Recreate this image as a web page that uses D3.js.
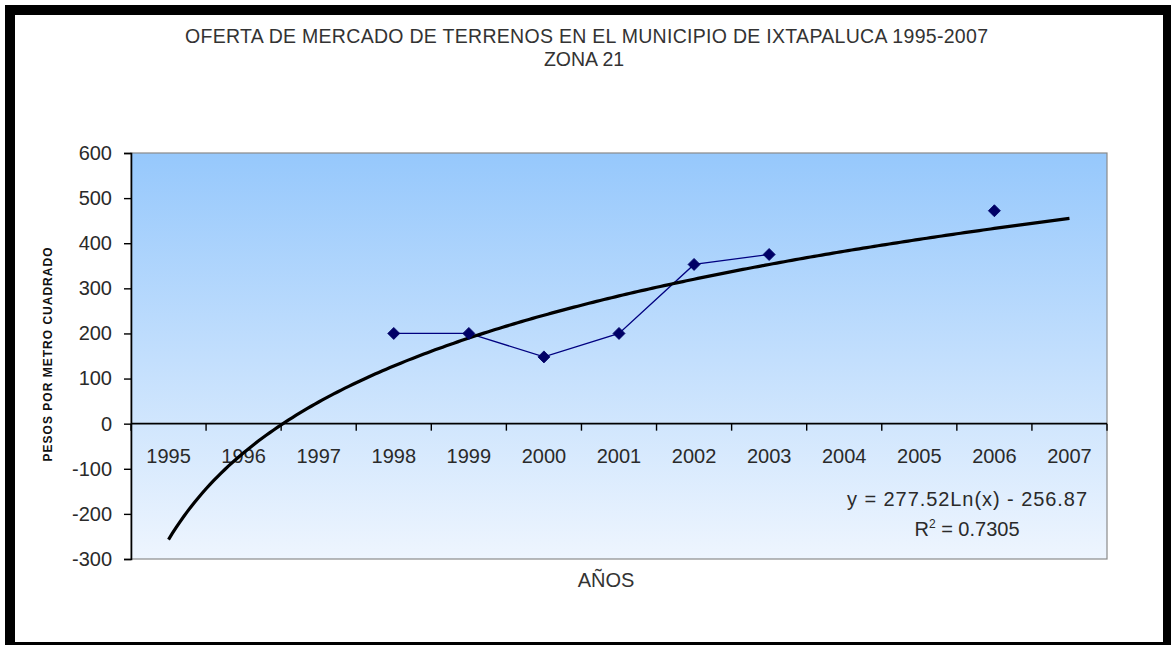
<!DOCTYPE html>
<html>
<head>
<meta charset="utf-8">
<script src="https://cdn.jsdelivr.net/npm/d3@7/dist/d3.min.js"></script>
<style>
  html, body { margin: 0; padding: 0; background: #fff; }
  svg { display: block; font-family: Arial, "Liberation Sans", sans-serif; }
</style>
</head>
<body>
<svg id="chart" width="1171" height="645"></svg>
<script>
// Market offer of land, Ixtapaluca, zone 21 (pesos per square metre)
const years = ["1995","1996","1997","1998","1999","2000","2001","2002","2003","2004","2005","2006","2007"];
const prices = [null, null, null, 200, 200, 148, 200, 353, 375, null, null, 472, null];
const yTicks = [-300, -200, -100, 0, 100, 200, 300, 400, 500, 600];

// Logarithmic trend line reported on the chart: y = a·ln(x) + b
const trendA = 277.52;
const trendB = -256.87;
const trendR2 = "0.7305";

const titleLines = ["OFERTA DE MERCADO DE TERRENOS EN EL MUNICIPIO DE IXTAPALUCA 1995-2007", "ZONA 21"];
const xTitle = "AÑOS";
const yTitle = "PESOS POR METRO CUADRADO";

const svg = d3.select("#chart");
const W = 1171, H = 645;
const plot = { left: 131, top: 153, right: 1107, bottom: 559 };

// Outer black frame
svg.append("rect").attr("x", 0).attr("y", 0).attr("width", W).attr("height", H).attr("fill", "#fff");
svg.append("rect").attr("x", 5).attr("y", 5).attr("width", W - 5).attr("height", H - 5).attr("fill", "#000");
svg.append("rect").attr("x", 15).attr("y", 15).attr("width", 1163 - 15).attr("height", 642 - 15).attr("fill", "#fff");

const x = d3.scaleBand().domain(years).range([plot.left, plot.right]).padding(0);
const y = d3.scaleLinear().domain([-300, 600]).range([plot.bottom, plot.top]);
// Trend x runs 1..n over the category centres
const xi = d3.scaleLinear().domain([1, years.length])
  .range([x(years[0]) + x.bandwidth() / 2, x(years[years.length - 1]) + x.bandwidth() / 2]);

// Plot area with vertical gradient
const defs = svg.append("defs");
const grad = defs.append("linearGradient").attr("id", "bg").attr("x1", 0).attr("y1", 0).attr("x2", 0).attr("y2", 1);
grad.append("stop").attr("offset", "0%").attr("stop-color", "#96c8fc");
grad.append("stop").attr("offset", "100%").attr("stop-color", "#eef5fe");

svg.append("rect")
  .attr("x", plot.left).attr("y", plot.top)
  .attr("width", plot.right - plot.left).attr("height", plot.bottom - plot.top)
  .attr("fill", "url(#bg)").attr("stroke", "#8a8a8a").attr("stroke-width", 1.2);

// Y axis
const yAxis = d3.axisLeft(y).tickValues(yTicks).tickSize(7).tickPadding(12).tickFormat(d => String(d));
const gy = svg.append("g").attr("transform", `translate(${plot.left},0)`).call(yAxis);
gy.select(".domain").attr("stroke", "#000").attr("stroke-width", 1.6);
gy.selectAll(".tick line").attr("stroke", "#000").attr("stroke-width", 1.4);
gy.selectAll(".tick text").attr("font-size", 20).attr("fill", "#2a2a2a")
  .attr("font-family", "Arial, 'Liberation Sans', sans-serif");

// X axis along the zero line, ticks between categories
const zeroY = y(0);
const gx = svg.append("g");
gx.append("line").attr("x1", plot.left).attr("x2", plot.right).attr("y1", zeroY).attr("y2", zeroY)
  .attr("stroke", "#000").attr("stroke-width", 1.6);
gx.selectAll("line.tk").data(years.concat(["end"])).join("line").attr("class", "tk")
  .attr("x1", (d, i) => plot.left + i * x.bandwidth())
  .attr("x2", (d, i) => plot.left + i * x.bandwidth())
  .attr("y1", zeroY).attr("y2", zeroY + 7)
  .attr("stroke", "#000").attr("stroke-width", 1.4);
gx.selectAll("text").data(years).join("text")
  .attr("x", d => x(d) + x.bandwidth() / 2)
  .attr("y", zeroY + 39.5)
  .attr("text-anchor", "middle").attr("font-size", 20).attr("fill", "#2a2a2a")
  .text(d => d);

// Data series: navy line with diamond markers, gaps where no offer
const pts = years.map((yr, i) => ({ yr, v: prices[i] }));
const line = d3.line()
  .defined(d => d.v !== null)
  .x(d => x(d.yr) + x.bandwidth() / 2)
  .y(d => y(d.v));
svg.append("path").datum(pts).attr("d", line)
  .attr("fill", "none").attr("stroke", "#000080").attr("stroke-width", 1.3);

// Trend line
const trendPts = d3.range(1, years.length + 0.001, 0.05).map(t => [t, trendA * Math.log(t) + trendB]);
svg.append("path").datum(trendPts)
  .attr("d", d3.line().x(d => xi(d[0])).y(d => y(d[1])))
  .attr("fill", "none").attr("stroke", "#000").attr("stroke-width", 3.2);

const diamond = d3.symbol().type(d3.symbolSquare).size(72);
svg.selectAll("path.mk").data(pts.filter(d => d.v !== null)).join("path").attr("class", "mk")
  .attr("d", diamond)
  .attr("transform", d => `translate(${x(d.yr) + x.bandwidth() / 2},${y(d.v)}) rotate(45)`)
  .attr("fill", "#000066").attr("stroke", "#000066").attr("stroke-width", 0.8);

// Trend equation label
const eqX = 967;
svg.append("text").attr("x", eqX).attr("y", 506).attr("text-anchor", "middle")
  .attr("font-size", 20).attr("fill", "#2a2a2a").attr("textLength", 240).attr("lengthAdjust", "spacing")
  .text(`y = ${trendA}Ln(x) - ${Math.abs(trendB)}`);
const r2 = svg.append("text").attr("x", eqX).attr("y", 536).attr("text-anchor", "middle")
  .attr("font-size", 20).attr("fill", "#2a2a2a");
r2.append("tspan").text("R");
r2.append("tspan").attr("font-size", 12).attr("dy", -8).text("2");
r2.append("tspan").attr("dy", 8).text(` = ${trendR2}`);

// Titles
svg.append("text").attr("x", 586.5).attr("y", 42.5).attr("text-anchor", "middle")
  .attr("font-size", 19.5).attr("fill", "#333").attr("textLength", 803).attr("lengthAdjust", "spacing")
  .text(titleLines[0]);
svg.append("text").attr("x", 584).attr("y", 65.5).attr("text-anchor", "middle")
  .attr("font-size", 19.5).attr("fill", "#333")
  .text(titleLines[1]);

svg.append("text").attr("x", 606).attr("y", 586.5).attr("text-anchor", "middle")
  .attr("font-size", 20).attr("fill", "#333").text(xTitle);

svg.append("text")
  .attr("transform", "translate(52,354.5) rotate(-90)")
  .attr("text-anchor", "middle").attr("font-size", 12).attr("font-weight", "bold")
  .attr("fill", "#111").attr("textLength", 214).attr("lengthAdjust", "spacing")
  .text(yTitle);
</script>
</body>
</html>
